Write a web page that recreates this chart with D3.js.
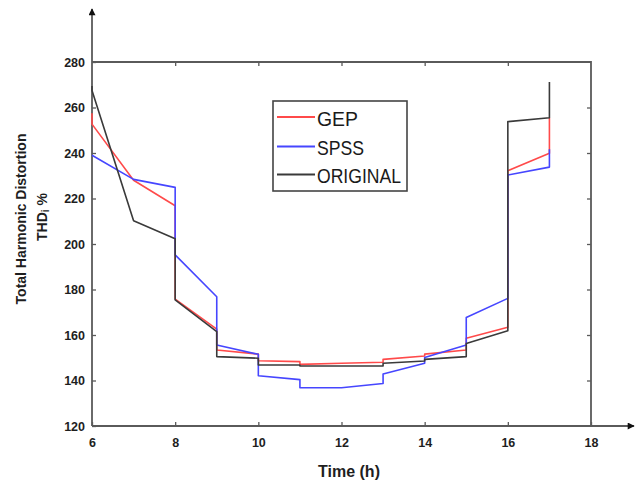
<!DOCTYPE html>
<html>
<head>
<meta charset="utf-8">
<script src="https://cdn.jsdelivr.net/npm/d3@7"></script>
<style>
  html, body { margin: 0; padding: 0; background: #fff; }
  svg { display: block; }
  text { font-family: "Liberation Sans", Arial, sans-serif; }
</style>
</head>
<body>
<script>
// ---- data ----
const hours = [6, 7, 8, 9, 10, 11, 12, 13, 14, 15, 16, 17];
// value arriving at each hour boundary, and value leaving it (step at each hour)
const gepArrive  = [257.5, 228.0, 216.8, 162.6, 151.6, 148.3, 147.6, 148.0, 150.8, 153.4, 163.4, 239.9];
const gepLeave   = [252.7, 228.0, 175.8, 153.4, 148.7, 147.1, 147.6, 149.3, 151.6, 158.6, 232.2, 255.5];
const spssArrive = [239.0, 228.4, 224.9, 176.8, 151.5, 140.4, 136.8, 138.7, 147.6, 155.6, 176.1, 233.8];
const spssLeave  = [239.0, 228.4, 195.2, 155.6, 142.1, 136.8, 136.8, 142.9, 150.1, 167.7, 230.3, 241.6];
const origArrive = [269.5, 210.2, 202.3, 161.5, 149.8, 146.8, 146.4, 146.4, 148.6, 150.5, 161.9, 255.5];
const origLeave  = [267.5, 210.2, 175.4, 150.5, 146.8, 146.4, 146.4, 147.6, 149.3, 156.3, 253.8, 271.2];
const seriesNames = ["GEP", "SPSS", "ORIGINAL"];
const xTicks = [6, 8, 10, 12, 14, 16, 18];
const yTicks = [120, 140, 160, 180, 200, 220, 240, 260, 280];

const colors = { "GEP": "#ff4a4a", "SPSS": "#4646ff", "ORIGINAL": "#3a3a3a" };
const series = [
  { name: "GEP", arrive: gepArrive, leave: gepLeave },
  { name: "SPSS", arrive: spssArrive, leave: spssLeave },
  { name: "ORIGINAL", arrive: origArrive, leave: origLeave }
];

const W = 636, H = 484;
const svg = d3.select("body").append("svg").attr("width", W).attr("height", H);

const x = d3.scaleLinear().domain([6, 18]).range([92, 591]);
const y = d3.scaleLinear().domain([120, 280]).range([426, 62]);

const axisColor = "#5a5a5a";
const labelColor = "#1e1e1e";

// arrow markers
const defs = svg.append("defs");
defs.append("marker").attr("id", "arrow")
  .attr("viewBox", "0 0 10 10").attr("refX", 9).attr("refY", 5)
  .attr("markerWidth", 9).attr("markerHeight", 7).attr("markerUnits", "userSpaceOnUse")
  .attr("orient", "auto")
  .append("path").attr("d", "M0,0 L10,5 L0,10 Z").attr("fill", "#111");

// box (top & right borders)
svg.append("path")
  .attr("d", `M${x(6)},${y(280)} H${x(18)} V${y(120)}`)
  .attr("fill", "none").attr("stroke", axisColor).attr("stroke-width", 1.8);

// axes with arrows
svg.append("line").attr("x1", x(6)).attr("y1", y(120)).attr("x2", 634).attr("y2", y(120))
  .attr("stroke", axisColor).attr("stroke-width", 1.8).attr("marker-end", "url(#arrow)");
svg.append("line").attr("x1", x(6)).attr("y1", y(120)).attr("x2", x(6)).attr("y2", 9)
  .attr("stroke", axisColor).attr("stroke-width", 1.8).attr("marker-end", "url(#arrow)");

// tick axes
function styleAxis(g, showLabels) {
  g.select(".domain").remove();
  g.selectAll(".tick line").attr("stroke", axisColor).attr("stroke-width", 1.3);
  if (!showLabels) g.selectAll(".tick text").remove();
  else g.selectAll(".tick text").attr("fill", labelColor)
      .style("font-size", "12.5px").style("font-weight", "bold");
}
svg.append("g").attr("transform", `translate(0,${y(120)})`)
  .call(d3.axisBottom(x).tickValues(xTicks).tickFormat(d3.format("d")).tickSize(-4).tickPadding(12))
  .call(g => styleAxis(g, true));
svg.append("g").attr("transform", `translate(${x(6)},0)`)
  .call(d3.axisLeft(y).tickValues(yTicks).tickFormat(d3.format("d")).tickSize(-4).tickPadding(7))
  .call(g => styleAxis(g, true));
svg.append("g").attr("transform", `translate(0,${y(280)})`)
  .call(d3.axisTop(x).tickValues(xTicks.slice(1, -1)).tickSize(-4))
  .call(g => styleAxis(g, false));
svg.append("g").attr("transform", `translate(${x(18)},0)`)
  .call(d3.axisRight(y).tickValues(yTicks.slice(1, -1)).tickSize(-4))
  .call(g => styleAxis(g, false));

// series lines (step at each hour boundary)
const line = d3.line().x(d => x(d[0])).y(d => y(d[1]));
series.forEach(s => {
  const pts = [];
  hours.forEach((h, i) => { pts.push([h, s.arrive[i]]); pts.push([h, s.leave[i]]); });
  svg.append("path").datum(pts)
    .attr("d", line)
    .attr("fill", "none")
    .attr("stroke", colors[s.name])
    .attr("stroke-width", 1.6)
    .attr("stroke-linejoin", "round");
});

// legend
const lg = svg.append("g");
lg.append("rect").attr("x", 273).attr("y", 101).attr("width", 134).attr("height", 90)
  .attr("fill", "#fff").attr("stroke", "#444").attr("stroke-width", 1.6);
const legendRows = [117, 146.5, 174.5];
seriesNames.forEach((n, i) => {
  lg.append("line").attr("x1", 277).attr("x2", 315)
    .attr("y1", legendRows[i]).attr("y2", legendRows[i])
    .attr("stroke", colors[n]).attr("stroke-width", 1.8);
  const t = lg.append("text").attr("x", 317).attr("y", legendRows[i] + 8.5)
    .attr("fill", "#1a1a1a").style("font-size", "21px").text(n);
  if (n === "ORIGINAL") t.attr("textLength", 84).attr("lengthAdjust", "spacingAndGlyphs");
  if (n === "GEP") t.attr("textLength", 41).attr("lengthAdjust", "spacingAndGlyphs");
  if (n === "SPSS") t.attr("textLength", 47).attr("lengthAdjust", "spacingAndGlyphs");
});

// axis titles
svg.append("text").attr("x", 349).attr("y", 477).attr("text-anchor", "middle")
  .attr("fill", labelColor).style("font-size", "16px").style("font-weight", "bold")
  .text("Time (h)");

svg.append("text").attr("transform", "translate(26,219) rotate(-90)")
  .attr("text-anchor", "middle").attr("fill", labelColor)
  .style("font-size", "14px").style("font-weight", "bold")
  .text("Total Harmonic Distortion");
const t2 = svg.append("text").attr("transform", "translate(47,217) rotate(-90)")
  .attr("text-anchor", "middle").attr("fill", labelColor)
  .style("font-size", "14px").style("font-weight", "bold");
t2.append("tspan").text("THD");
t2.append("tspan").style("font-size", "10px").attr("dy", 2).text("i");
t2.append("tspan").attr("dy", -2).text(" %");
</script>
</body>
</html>
